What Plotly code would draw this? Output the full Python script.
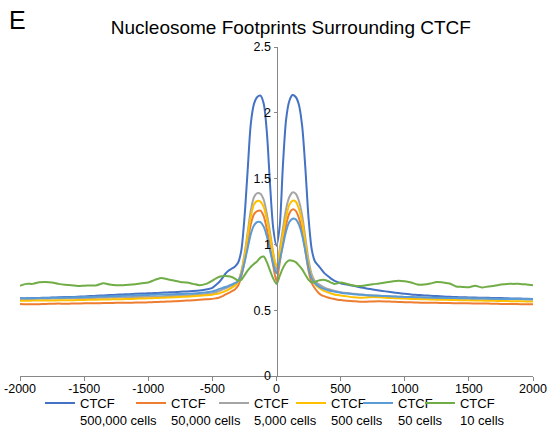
import plotly.graph_objects as go

# x positions (bp from CTCF site)
x_pos = list(range(-2000, -500, 50)) + list(range(-500, 525, 25)) + list(range(550, 2050, 50))

blue_500k = [
    0.59, 0.59, 0.592, 0.593, 0.595, 0.596, 0.598, 0.60, 0.60, 0.602,
    0.605, 0.607, 0.61, 0.612, 0.615, 0.617, 0.62, 0.622, 0.625, 0.627,
    0.628, 0.63, 0.633, 0.635, 0.637, 0.64, 0.643, 0.646, 0.65, 0.657,
    0.67, 0.69, 0.71, 0.74, 0.775, 0.80, 0.815, 0.83, 0.86, 0.95,
    1.2, 1.56, 1.92, 2.07, 2.12, 2.13, 2.07, 1.85, 1.45, 1.12, 0.99,
    1.14, 1.6, 1.95, 2.09, 2.135, 2.12, 2.06, 1.9, 1.58, 1.2,
    0.96, 0.87, 0.84, 0.81, 0.78, 0.76, 0.74, 0.725, 0.715, 0.705,
    0.695, 0.685, 0.675, 0.665, 0.658, 0.65, 0.643, 0.636, 0.63, 0.625,
    0.62, 0.616, 0.612, 0.61, 0.607, 0.604, 0.602, 0.60, 0.598, 0.597,
    0.596, 0.595, 0.594, 0.593, 0.592, 0.59, 0.589, 0.588, 0.587, 0.585,
]

orange_50k = [
    0.548, 0.546, 0.545, 0.546, 0.548, 0.549, 0.55, 0.549, 0.55, 0.551,
    0.552, 0.553, 0.553, 0.554, 0.555, 0.556, 0.556, 0.557, 0.558, 0.558,
    0.56, 0.562, 0.564, 0.566, 0.568, 0.57, 0.573, 0.576, 0.58, 0.583,
    0.586, 0.59, 0.595, 0.605, 0.618, 0.63, 0.643, 0.657, 0.685, 0.755,
    0.865, 1.015, 1.155, 1.23, 1.253, 1.256, 1.215, 1.115, 0.98, 0.835, 0.72,
    0.86, 1.01, 1.15, 1.235, 1.266, 1.255, 1.20, 1.10, 0.95, 0.80,
    0.705, 0.665, 0.635, 0.615, 0.605, 0.597, 0.59, 0.585, 0.58, 0.577,
    0.572, 0.568, 0.565, 0.565, 0.567, 0.568, 0.567, 0.565, 0.563, 0.561,
    0.56, 0.558, 0.557, 0.556, 0.556, 0.555, 0.554, 0.553, 0.552, 0.552,
    0.551, 0.55, 0.55, 0.549, 0.548, 0.548, 0.547, 0.546, 0.546, 0.545,
]

gray_5k = [
    0.585, 0.585, 0.586, 0.587, 0.587, 0.588, 0.589, 0.59, 0.59, 0.591,
    0.592, 0.593, 0.594, 0.595, 0.596, 0.597, 0.598, 0.599, 0.60, 0.601,
    0.602, 0.604, 0.605, 0.607, 0.608, 0.61, 0.612, 0.615, 0.618, 0.622,
    0.628, 0.635, 0.645, 0.655, 0.665, 0.675, 0.685, 0.695, 0.72, 0.79,
    0.92, 1.09, 1.26, 1.36, 1.39, 1.385, 1.34, 1.23, 1.09, 0.93, 0.81,
    0.96, 1.12, 1.27, 1.36, 1.395, 1.385, 1.33, 1.22, 1.05, 0.88,
    0.77, 0.72, 0.70, 0.685, 0.672, 0.662, 0.655, 0.648, 0.642, 0.637,
    0.63, 0.625, 0.62, 0.615, 0.612, 0.61, 0.607, 0.605, 0.603, 0.60,
    0.598, 0.597, 0.595, 0.594, 0.593, 0.592, 0.59, 0.59, 0.589, 0.588,
    0.587, 0.587, 0.586, 0.585, 0.585, 0.584, 0.584, 0.583, 0.583, 0.582,
]

yellow_500 = [
    0.572, 0.572, 0.573, 0.573, 0.574, 0.574, 0.575, 0.575, 0.576, 0.577,
    0.578, 0.579, 0.58, 0.581, 0.582, 0.583, 0.584, 0.585, 0.587, 0.589,
    0.59, 0.592, 0.594, 0.596, 0.598, 0.60, 0.603, 0.606, 0.609, 0.613,
    0.618, 0.622, 0.627, 0.635, 0.645, 0.657, 0.67, 0.685, 0.715, 0.785,
    0.905, 1.065, 1.215, 1.305, 1.33, 1.325, 1.285, 1.19, 1.06, 0.925, 0.83,
    0.94, 1.08, 1.21, 1.30, 1.332, 1.325, 1.27, 1.17, 1.01, 0.85,
    0.75, 0.70, 0.675, 0.658, 0.645, 0.635, 0.627, 0.62, 0.615, 0.612,
    0.605, 0.598, 0.595, 0.597, 0.60, 0.598, 0.595, 0.592, 0.59, 0.588,
    0.586, 0.585, 0.583, 0.582, 0.58, 0.579, 0.578, 0.577, 0.576, 0.575,
    0.574, 0.573, 0.572, 0.571, 0.57, 0.569, 0.568, 0.568, 0.567, 0.567,
]

ltblue_50 = [
    0.59, 0.59, 0.591, 0.592, 0.593, 0.594, 0.595, 0.596, 0.597, 0.598,
    0.60, 0.601, 0.603, 0.604, 0.606, 0.607, 0.609, 0.611, 0.613, 0.615,
    0.616, 0.618, 0.619, 0.62, 0.622, 0.623, 0.625, 0.627, 0.63, 0.635,
    0.642, 0.65, 0.66, 0.668, 0.676, 0.685, 0.695, 0.705, 0.72, 0.77,
    0.86, 0.97, 1.08, 1.145, 1.17, 1.17, 1.135, 1.06, 0.95, 0.85, 0.78,
    0.88, 0.99, 1.10, 1.17, 1.195, 1.19, 1.15, 1.07, 0.95, 0.82,
    0.74, 0.705, 0.685, 0.67, 0.66, 0.652, 0.646, 0.641, 0.637, 0.633,
    0.627, 0.622, 0.618, 0.614, 0.611, 0.609, 0.607, 0.605, 0.603, 0.601,
    0.60, 0.598, 0.597, 0.596, 0.595, 0.594, 0.593, 0.592, 0.591, 0.59,
    0.589, 0.588, 0.588, 0.587, 0.586, 0.586, 0.585, 0.585, 0.584, 0.584,
]

green_10 = [
    0.686, 0.70, 0.70, 0.712, 0.715, 0.71, 0.70, 0.693, 0.69, 0.684,
    0.686, 0.688, 0.69, 0.705, 0.695, 0.69, 0.69, 0.693, 0.698, 0.705,
    0.71, 0.73, 0.745, 0.735, 0.725, 0.715, 0.71, 0.70, 0.69, 0.70,
    0.725, 0.74, 0.752, 0.758, 0.76, 0.758, 0.752, 0.74, 0.725, 0.73,
    0.765, 0.80, 0.83, 0.852, 0.872, 0.90, 0.908, 0.865, 0.80, 0.74, 0.70,
    0.76, 0.82, 0.862, 0.88, 0.876, 0.865, 0.84, 0.81, 0.77, 0.73,
    0.71, 0.715, 0.725, 0.73, 0.73, 0.722, 0.71, 0.70, 0.705, 0.71,
    0.70, 0.688, 0.684, 0.69, 0.697, 0.703, 0.71, 0.718, 0.724, 0.72,
    0.71, 0.695, 0.695, 0.703, 0.715, 0.71, 0.703, 0.68, 0.677, 0.675,
    0.685, 0.673, 0.68, 0.686, 0.695, 0.70, 0.70, 0.70, 0.695, 0.69,
]

series_names = ["CTCF<br>500,000 cells", "CTCF<br>50,000 cells", "CTCF<br>5,000 cells",
                "CTCF<br>500 cells", "CTCF<br>50 cells", "CTCF<br>10 cells"]
series_vals = [blue_500k, orange_50k, gray_5k, yellow_500, ltblue_50, green_10]
colors = ["#4472C4", "#ED7D31", "#A5A5A5", "#FFC000", "#5B9BD5", "#70AD47"]

x_ticks = [-2000, -1500, -1000, -500, 0, 500, 1000, 1500, 2000]
x_ticktext = ["-2000", "-1500", "-1000", "-500", "0", "500", "1000", "1500", "2000"]
y_ticks = [0, 0.5, 1, 1.5, 2, 2.5]
y_ticktext = ["0", "0.5", "1", "1.5", "2", "2.5"]

legend_x = [0.039, 0.2164, 0.3782, 0.5283, 0.6589, 0.7797]

FONT = "Liberation Sans, Arial, Helvetica, sans-serif"

fig = go.Figure()
for i, (nm, vals, col) in enumerate(zip(series_names, series_vals, colors)):
    lg = "legend" if i == 0 else f"legend{i+1}"
    fig.add_trace(go.Scatter(
        x=x_pos, y=vals, mode="lines", name=nm,
        line=dict(color=col, width=2, shape="spline", smoothing=0.8),
        legend=lg,
    ))

layout_legends = {}
for i, lx in enumerate(legend_x):
    key = "legend" if i == 0 else f"legend{i+1}"
    layout_legends[key] = dict(
        x=lx, xanchor="left", y=-0.037, yanchor="top",
        orientation="h", valign="top", bgcolor="rgba(0,0,0,0)",
        font=dict(family=FONT, size=13, color="#000"),
    )

fig.update_layout(
    width=550, height=427,
    margin=dict(l=20, r=17, t=47, b=51, autoexpand=False),
    paper_bgcolor="white", plot_bgcolor="white",
    font=dict(family=FONT, size=13, color="#000"),
    title=dict(text="Nucleosome Footprints Surrounding CTCF", x=0.528, xref="paper",
               xanchor="center", y=1 - 27 / 427, yref="container", yanchor="middle",
               font=dict(family=FONT, size=19, color="#000")),
    showlegend=True,
    xaxis=dict(range=[-2000, 2000], tickvals=x_ticks, ticktext=x_ticktext,
               showline=True, linecolor="#888", linewidth=1, ticks="outside",
               ticklen=4, tickcolor="#888", showgrid=False, zeroline=False,
               ticklabelstandoff=-3,
               tickfont=dict(family=FONT, size=12.5, color="#000"), automargin=False),
    yaxis=dict(range=[0, 2.5], tickvals=y_ticks, ticktext=y_ticktext,
               anchor="free", position=0.5, side="left",
               showline=True, linecolor="#888", linewidth=1, ticks="outside",
               ticklen=3, tickcolor="#888", showgrid=False, zeroline=False,
               tickfont=dict(family=FONT, size=12.5, color="#000"), automargin=False),
    annotations=[dict(text="E", x=-0.0253, y=1.082, xref="paper", yref="paper",
                      xanchor="left", yanchor="middle", showarrow=False,
                      font=dict(family=FONT, size=25, color="#000"))],
    **layout_legends,
)

fig.write_html("out.html", config={"displayModeBar": False},
               post_script="document.body.style.margin='0';")
